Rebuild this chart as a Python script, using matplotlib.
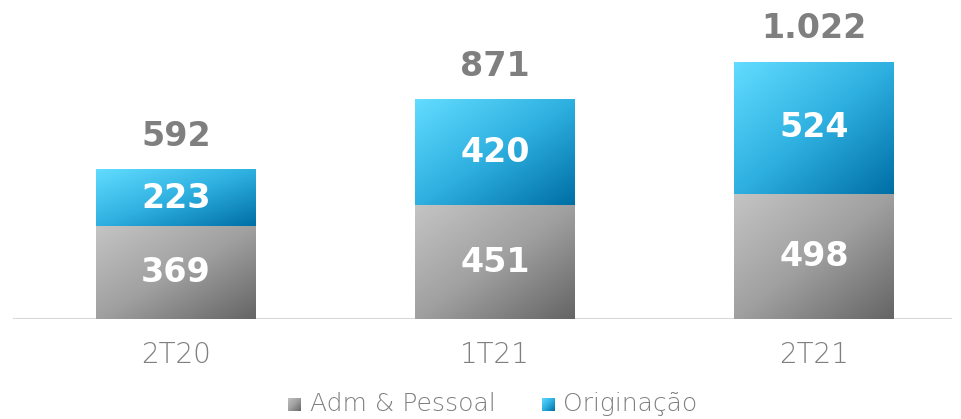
import matplotlib
matplotlib.use("Agg")
import matplotlib.pyplot as plt
import numpy as np
from matplotlib.colors import LinearSegmentedColormap

periods = ["2T20", "1T21", "2T21"]
adm_pessoal = [369, 451, 498]
originacao = [223, 420, 524]
totals = ["592", "871", "1.022"]
series_names = ["Adm & Pessoal", "Originação"]

plt.rcParams['font.family'] = ['DejaVu Sans']

gray_cmap = LinearSegmentedColormap.from_list("g", ["#c4c4c4", "#a0a0a0", "#656565"])
blue_cmap = LinearSegmentedColormap.from_list("b", ["#62dcff", "#2eb0e0", "#006fa6"])
txt_gray = '#7f7f7f'

W, H = 961, 419
fig = plt.figure(figsize=(W / 100, H / 100), dpi=100)
ax = fig.add_axes([0, 100 / H, 1, 319 / H])

x = np.arange(len(periods))
width = 0.50

# diagonal gradient: light top-left, dark bottom-right
u, v = np.meshgrid(np.linspace(0, 1, 100), np.linspace(0, 1, 100))
grad = (u + v) / 2


def grad_bar(x0, bottom, h, cmap):
    ax.imshow(grad, cmap=cmap, extent=[x0 - width / 2, x0 + width / 2, bottom, bottom + h],
              origin='upper', aspect='auto', interpolation='bilinear', zorder=2)


for i in x:
    grad_bar(i, 0, adm_pessoal[i], gray_cmap)
    grad_bar(i, adm_pessoal[i], originacao[i], blue_cmap)
    ax.text(i, adm_pessoal[i] / 2, str(adm_pessoal[i]), ha='center', va='center',
            color='white', fontsize=24, fontweight='bold', zorder=3)
    ax.text(i, adm_pessoal[i] + originacao[i] / 2, str(originacao[i]), ha='center', va='center',
            color='white', fontsize=24, fontweight='bold', zorder=3)
    ax.annotate(totals[i], (i, adm_pessoal[i] + originacao[i]), xytext=(0, 24),
                textcoords='offset points', ha='center', va='center',
                color=txt_gray, fontsize=24, fontweight='bold')

ax.set_xlim(-176 / 319, 785 / 319)
ax.set_ylim(0, 1267)
ax.axhline(0, xmin=0.015, xmax=0.99, color='#d9d9d9', lw=1.5, zorder=1)

for s in ax.spines.values():
    s.set_visible(False)
ax.set_yticks([])
ax.set_xticks(x)
ax.set_xticklabels(periods, fontsize=20, color=txt_gray, fontweight='light')
ax.tick_params(axis='x', length=0, pad=16)

# legend with gradient squares
legend_items = [(288, 310, gray_cmap), (542, 563, blue_cmap)]
for (sq_x, tx, cmap), name in zip(legend_items, series_names):
    lax = fig.add_axes([sq_x / W, 8 / H, 13 / W, 13 / H])
    lax.imshow(grad, cmap=cmap, aspect='auto', interpolation='bilinear')
    lax.axis('off')
    fig.text(tx / W, 15 / H, name, ha='left', va='center', fontsize=18,
             color=txt_gray, fontweight='light')

fig.savefig("out.png", dpi=100)
